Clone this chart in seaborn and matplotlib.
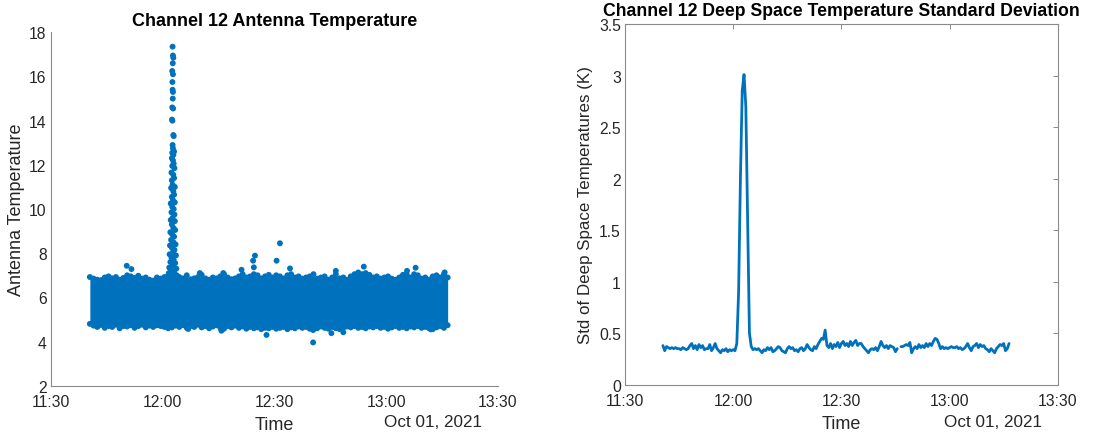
import numpy as np
import pandas as pd
import matplotlib
matplotlib.use("Agg")
import matplotlib.pyplot as plt
import matplotlib.dates as mdates
import seaborn as sns

sns.set_style("white")
plt.rcParams["font.family"] = ["Liberation Sans", "DejaVu Sans"]

DAY = "2021-10-01"
BLUE = "#0072BD"
TXT = "#262626"
AXC = "#8a8a8a"

# ---------------- Antenna temperature (channel 12) ----------------
# Dense band of samples: per-minute upper / lower extremes, starting 11:40:30
band_start = "11:40:30"
band_hi = [
    6.92, 6.85, 6.80, 6.78, 6.90, 6.95, 6.86, 6.92, 6.80, 6.88,
    7.00, 6.95, 6.88, 6.98, 6.85, 6.90, 6.80, 6.76, 6.90, 6.85,
    6.92, 7.00, 7.00, 7.00, 6.92, 6.86, 7.00, 6.82, 6.86, 6.92,
    7.02, 6.86, 6.80, 6.90, 6.86, 6.95, 7.05, 6.90, 6.82, 6.86,
    6.95, 7.05, 6.90, 6.95, 7.05, 7.00, 6.86, 6.95, 7.02, 6.90,
    7.00, 6.95, 6.86, 7.00, 7.05, 6.90, 6.95, 6.85, 6.90, 6.95,
    7.05, 6.85, 6.90, 6.95, 6.80, 6.90, 7.05, 6.86, 6.90, 6.80,
    6.95, 7.05, 6.90, 7.05, 7.10, 7.02, 6.90, 6.95, 6.85, 6.90,
    6.95, 6.85, 6.80, 6.90, 7.02, 7.05, 6.90, 7.05, 7.00, 6.85,
    6.90, 6.80, 6.95, 7.00, 6.90, 7.05, 6.90,
]
band_lo = [
    4.80, 4.72, 4.66, 4.75, 4.62, 4.70, 4.66, 4.76, 4.60, 4.70,
    4.68, 4.74, 4.62, 4.70, 4.76, 4.64, 4.72, 4.66, 4.74, 4.70,
    4.66, 4.60, 4.64, 4.72, 4.66, 4.74, 4.62, 4.70, 4.66, 4.76,
    4.64, 4.70, 4.60, 4.68, 4.74, 4.62, 4.58, 4.70, 4.64, 4.72,
    4.62, 4.68, 4.58, 4.66, 4.60, 4.64, 4.56, 4.62, 4.60, 4.66,
    4.58, 4.62, 4.66, 4.56, 4.64, 4.60, 4.68, 4.62, 4.66, 4.58,
    4.64, 4.60, 4.68, 4.62, 4.58, 4.66, 4.60, 4.56, 4.62, 4.68,
    4.64, 4.70, 4.62, 4.66, 4.60, 4.68, 4.64, 4.70, 4.62, 4.66,
    4.58, 4.64, 4.70, 4.62, 4.66, 4.60, 4.68, 4.64, 4.70, 4.62,
    4.66, 4.60, 4.56, 4.64, 4.70, 4.62, 4.74,
]

# Isolated samples outside the band
out_times = [
    "11:50:24", "11:51:40", "12:06:54", "12:10:00", "12:15:48", "12:16:18",
    "12:21:12", "12:24:18", "12:24:48", "12:24:30", "12:27:54", "12:30:36",
    "12:31:30", "12:34:12", "12:40:24", "12:40:24", "12:45:18", "12:46:30",
    "12:48:30", "12:54:00", "12:52:30", "13:05:36", "13:07:54", "13:15:42",
    "13:12:00",
]
out_vals = [
    7.43, 7.28, 4.57, 7.10, 4.49, 7.10,
    7.25, 7.66, 7.89, 7.36, 4.30, 7.66,
    8.45, 7.31, 3.96, 4.52, 4.38, 7.20,
    4.42, 7.39, 7.13, 7.20, 7.34, 7.13,
    4.55,
]

# Event near 12:02 — minutes after 12:00 and temperature
spike_min = [
    2.70, 2.80, 2.90, 2.75, 2.60, 2.80, 2.65, 2.70, 2.80, 2.75,
    2.60, 2.85, 2.55, 2.65, 2.90, 3.00, 2.70, 2.80, 2.60, 2.90,
    3.10, 2.50, 2.80, 3.00, 2.60, 3.20, 2.40, 2.90, 3.10, 2.50,
    2.70, 3.30, 2.30, 2.90, 3.10, 2.50, 2.80, 3.30, 2.20, 2.60,
    3.00, 2.40, 3.20, 2.70, 2.20, 3.30, 2.50, 2.90, 3.40, 2.10,
    2.60, 3.10, 2.30, 2.90, 3.50, 2.00, 2.50, 3.20, 2.80, 1.90,
    3.60, 2.40, 3.00, 2.10, 3.40, 2.70, 1.80, 3.70, 2.30, 3.10,
    1.70, 2.60, 3.80, 2.00,
]
spike_val = [
    17.35, 16.95, 16.85, 16.60, 16.25, 16.10, 15.75, 15.40, 15.30, 15.00,
    14.60, 14.55, 14.05, 14.00, 13.35, 13.30, 12.90, 12.75, 12.55, 12.45,
    12.60, 12.30, 12.20, 12.05, 11.95, 11.85, 11.65, 11.55, 11.40, 11.30,
    11.10, 11.00, 10.95, 10.80, 10.65, 10.55, 10.40, 10.30, 10.25, 10.10,
    10.00, 9.85, 9.75, 9.60, 9.50, 9.45, 9.30, 9.15, 9.05, 8.95,
    8.85, 8.75, 8.60, 8.50, 8.40, 8.35, 8.25, 8.15, 8.05, 7.95,
    7.90, 7.80, 7.70, 7.60, 7.55, 7.45, 7.35, 7.30, 7.25, 7.15,
    7.10, 7.05, 7.00, 6.95,
]

# ---------------- Deep space std (channel 12) ----------------
# 30-second samples starting 11:40:30; NaN marks a missing sample
std_start = "11:40:30"
std_vals = [
    0.38, 0.33, 0.37, 0.36, 0.35, 0.36, 0.35, 0.36, 0.35, 0.35,
    0.34, 0.36, 0.35, 0.34, 0.35, 0.38, 0.40, 0.35, 0.38, 0.34,
    0.39, 0.36, 0.38, 0.34, 0.35, 0.35, 0.39, 0.33, 0.36, 0.40,
    0.35, 0.33, 0.31, 0.34, 0.33, 0.35, 0.32, 0.34, 0.33, 0.34,
    0.33, 0.40, 0.90, 2.00, 2.85, 3.01, 2.70, 1.60, 0.50, 0.37,
    0.34, 0.35, 0.34, 0.35, 0.33, 0.31, 0.34, 0.33, 0.36, 0.34,
    0.36, 0.32, 0.33, 0.35, 0.37, 0.36, 0.33, 0.32, 0.31, 0.35,
    0.37, 0.35, 0.36, 0.33, 0.34, 0.32, 0.35, 0.36, 0.33, 0.35,
    0.39, 0.36, 0.34, 0.33, 0.37, 0.35, 0.39, 0.42, 0.45, 0.44,
    0.53, 0.38, 0.36, 0.40, 0.35, 0.39, 0.37, 0.41, 0.36, 0.40,
    0.42, 0.38, 0.40, 0.37, 0.42, 0.38, 0.41, 0.43, 0.38, 0.40,
    0.40, 0.37, 0.35, 0.33, 0.31, 0.34, 0.35, 0.34, 0.36, 0.33,
    0.37, 0.42, 0.38, 0.36, 0.38, 0.35, 0.38, 0.37, 0.36, 0.32,
    0.35, np.nan, 0.37, 0.37, 0.38, 0.39, 0.38, 0.41, 0.31, 0.35,
    0.37, 0.35, 0.39, 0.36, 0.38, 0.36, 0.40, 0.37, 0.40, 0.38,
    0.42, 0.45, 0.44, 0.40, 0.35, 0.37, 0.35, 0.36, 0.35, 0.36,
    0.37, 0.36, 0.36, 0.37, 0.35, 0.36, 0.34, 0.35, 0.37, 0.40,
    0.36, 0.33, 0.37, 0.38, 0.40, 0.36, 0.39, 0.37, 0.38, 0.35,
    0.34, 0.32, 0.35, 0.33, 0.31, 0.35, 0.37, 0.39, 0.38, 0.40,
    0.33, 0.35, 0.40,
]

x_ticks = ["11:30", "12:00", "12:30", "13:00", "13:30"]
date_label = "Oct 01, 2021"


def ts(hms):
    return pd.Timestamp(f"{DAY} {hms}")


band_t = pd.date_range(ts(band_start), periods=len(band_hi), freq="60s")
band_df = pd.DataFrame({"time": list(band_t) * 2, "temp": band_hi + band_lo})
out_df = pd.DataFrame({"time": [ts(t) for t in out_times], "temp": out_vals})
spike_df = pd.DataFrame({
    "time": [ts("12:00:00") + pd.Timedelta(minutes=m) for m in spike_min],
    "temp": spike_val,
})

std_t = pd.date_range(ts(std_start), periods=len(std_vals), freq="30s")
std_arr = np.array(std_vals, dtype=float)
seg = np.cumsum(np.isnan(std_arr))
std_df = pd.DataFrame({"time": std_t, "std": std_arr, "seg": seg}).dropna()

tick_pos = [ts(t + ":00") for t in x_ticks]

fig = plt.figure(figsize=(11, 4.35), dpi=100)
ax1 = fig.add_axes([0.0461, 0.111, 0.4066, 0.8124])
ax2 = fig.add_axes([0.5682, 0.1133, 0.3934, 0.8292])

# Left: antenna temperature scatter
ax1.fill_between(band_t, np.array(band_lo) + 0.05, np.array(band_hi) - 0.05,
                 color=BLUE, linewidth=0, zorder=1)
pt = dict(color=BLUE, s=18, linewidth=0, edgecolor="none", ax=ax1, zorder=2)
sns.scatterplot(data=band_df, x="time", y="temp", **pt)
sns.scatterplot(data=out_df, x="time", y="temp", **pt)
sns.scatterplot(data=spike_df, x="time", y="temp", **pt)
ax1.set_ylim(2, 18)
ax1.set_yticks(np.arange(2, 19, 2))
ax1.set_title("Channel 12 Antenna Temperature", fontsize=13, fontweight="bold",
              color="black", pad=5)
ax1.set_ylabel("Antenna Temperature", fontsize=13, color=TXT, labelpad=3)

# Right: standard deviation line
sns.lineplot(data=std_df, x="time", y="std", units="seg", estimator=None,
             color=BLUE, linewidth=2.0, ax=ax2)
ax2.set_ylim(0, 3.5)
ax2.set_yticks(np.arange(0, 3.51, 0.5))
ax2.set_yticklabels(["0", "0.5", "1", "1.5", "2", "2.5", "3", "3.5"])
ax2.set_title("Channel 12 Deep Space Temperature Standard Deviation",
              fontsize=12.7, fontweight="bold", color="black", pad=6.5)
ax2.set_ylabel("Std of Deep Space Temperatures (K)", fontsize=12.2, color=TXT,
               labelpad=4)

for ax, boxed, date_x in ((ax1, False, 0.4382), (ax2, True, 0.9475)):
    ax.set_xlim(tick_pos[0], tick_pos[-1])
    ax.set_xticks(tick_pos)
    ax.xaxis.set_major_formatter(mdates.DateFormatter("%H:%M"))
    ax.set_xlabel("Time", fontsize=13, color=TXT, labelpad=5)
    fig.text(date_x, 0.0276, date_label, ha="right", va="center",
             fontsize=12.3, color=TXT)
    for side, sp in ax.spines.items():
        sp.set_color(AXC)
        sp.set_linewidth(0.8)
        if side in ("top", "right"):
            sp.set_visible(boxed)
    ax.tick_params(direction="in", length=3.5, width=0.7, color=AXC,
                   labelsize=11.3, labelcolor=TXT, top=boxed, right=boxed)
    ax.tick_params(axis="x", pad=6)
    ax.tick_params(axis="y", pad=3)
    ax.grid(False)
    ax.set_facecolor("white")

fig.savefig("out.png", dpi=100, facecolor="white")
